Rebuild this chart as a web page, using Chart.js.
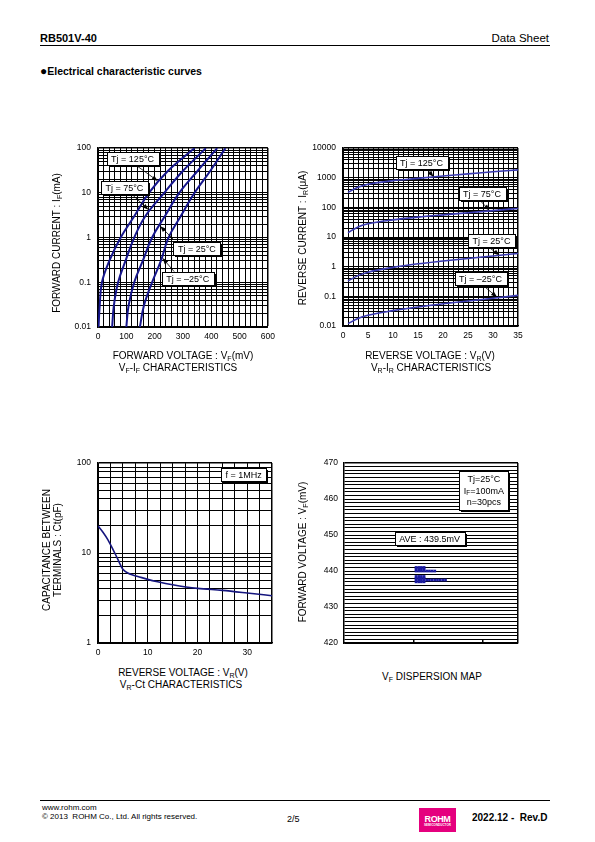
<!DOCTYPE html>
<html lang="en">
<head>
<meta charset="utf-8">
<title>RB501V-40 Electrical characteristic curves</title>
<script src="https://cdn.jsdelivr.net/npm/chart.js@4.4.1/dist/chart.umd.min.js"></script>
<style>
  html, body { margin: 0; padding: 0; background: #fff; }
  body { position: relative; width: 595px; height: 842px; overflow: hidden;
         font-family: "Liberation Sans", Arial, sans-serif; color: #000; }
  .t { position: absolute; white-space: pre; line-height: 1; }
  .c { transform: translate(-50%, -50%); }
  .v { transform: translate(-50%, -50%) rotate(-90deg); text-align: center; }
  .ax { font-size: 10px; }
  sub { font-size: 7px; vertical-align: -1.5px; line-height: 0; }
  .rule { position: absolute; left: 40px; width: 510px; height: 1px; background: #000; }
  canvas { position: absolute; }
</style>
</head>
<body>
<div class="t" style="left:40px;top:33px;font-size:11px;font-weight:bold">RB501V-40</div>
<div class="t" style="right:46px;top:33px;font-size:11.5px">Data Sheet</div>
<div class="rule" style="top:45px"></div>
<div class="t" style="left:40px;top:65px;font-size:10.5px;font-weight:bold"><span style="font-size:12px">●</span>Electrical characteristic curves</div>

<canvas id="vfif" width="240" height="215" style="left:40px;top:136px"></canvas>
<canvas id="vrir" width="240" height="215" style="left:290px;top:136px"></canvas>
<canvas id="vrct" width="240" height="215" style="left:40px;top:451px"></canvas>
<canvas id="vfmap" width="240" height="215" style="left:290px;top:452px"></canvas>

<!-- axis titles -->
<div class="t ax v" style="left:57px;top:243px">FORWARD CURRENT : I<sub>F</sub>(mA)</div>
<div class="t ax c" style="left:183px;top:356px">FORWARD VOLTAGE : V<sub>F</sub>(mV)</div>
<div class="t ax c" style="left:178px;top:368px">V<sub>F</sub>-I<sub>F</sub> CHARACTERISTICS</div>

<div class="t ax v" style="left:303px;top:238px">REVERSE CURRENT : I<sub>R</sub>(μA)</div>
<div class="t ax c" style="left:430px;top:356px">REVERSE VOLTAGE : V<sub>R</sub>(V)</div>
<div class="t ax c" style="left:431px;top:368px">V<sub>R</sub>-I<sub>R</sub> CHARACTERISTICS</div>

<div class="t ax v" style="left:52px;top:550px;line-height:10.5px">CAPACITANCE BETWEEN
TERMINALS : Ct(pF)</div>
<div class="t ax c" style="left:183px;top:673px">REVERSE VOLTAGE : V<sub>R</sub>(V)</div>
<div class="t ax c" style="left:181px;top:685px">V<sub>R</sub>-Ct CHARACTERISTICS</div>

<div class="t ax v" style="left:303px;top:552px">FORWARD VOLTAGE : V<sub>F</sub>(mV)</div>
<div class="t ax c" style="left:432px;top:677px">V<sub>F</sub> DISPERSION MAP</div>

<!-- footer -->
<div class="rule" style="top:800px"></div>
<div class="t" style="left:42px;top:804px;font-size:8px">www.rohm.com</div>
<div class="t" style="left:42px;top:813px;font-size:8px">© 2013  ROHM Co., Ltd. All rights reserved.</div>
<div class="t" style="left:287px;top:815px;font-size:9px">2/5</div>
<div style="position:absolute;left:419px;top:808px;width:37px;height:24px;background:#e5007e;color:#fff;text-align:center;font-weight:bold;line-height:1">
  <div style="margin-top:7px;font-size:9px;letter-spacing:-0.4px">ROHM</div>
  <div style="font-size:3px">SEMICONDUCTOR</div>
</div>
<div class="t" style="left:472px;top:813px;font-size:10px;font-weight:bold">2022.12 -  Rev.D</div>

<script>
// ---- VF-IF characteristics (forward current, mA, against VF in mV)
const ifLevels = [0.01, 0.03, 0.1, 0.3, 1, 3, 10, 30, 100];
const vf125 = [2, 6, 14, 40, 80, 128, 180, 245, 341];
const vf75 = [50, 56, 71, 97, 128, 167, 234, 298, 381];
const vf25 = [100, 108, 128, 158, 191, 236, 287, 350, 421];
const vfm25 = [148, 162, 191, 222, 249, 292, 341, 395, 450];

// ---- VR-IR characteristics (reverse current, uA)
const vrSteps = [1, 3, 5, 10, 15, 20, 25, 30, 35];
const ir125 = [320, 480, 600, 800, 950, 1150, 1350, 1600, 1850];
const ir75 = [14, 22, 28, 38, 47, 56, 66, 78, 92];
const ir25 = [0.33, 0.5, 0.65, 0.95, 1.25, 1.55, 1.9, 2.3, 2.8];
const irm25 = [0.012, 0.018, 0.023, 0.033, 0.044, 0.056, 0.07, 0.086, 0.108];

// ---- VR-Ct characteristics (pF)
const ctVr = [0, 1, 2, 3, 4, 5, 6, 7, 8, 10, 12, 15, 20, 25, 30, 35];
const ctPf = [20, 17, 14, 11, 8.5, 6.6, 6.0, 5.7, 5.5, 5.1, 4.8, 4.45, 4.05, 3.85, 3.6, 3.35];

// ---- VF dispersion map (mV rows, number of pcs on each row)
const vfRows = [441, 440.5, 440, 438.5, 438, 437.5, 437];
const vfCounts = [4, 4, 8, 4, 4, 12, 4];

const FONT = '"Liberation Sans", Arial, sans-serif';
Chart.defaults.font.family = FONT;
Chart.defaults.color = '#000';

const pairs = (xs, ys) => xs.map((x, i) => ({ x, y: ys[i] }));
const isDecade = v => { const l = Math.log10(v); return Math.abs(l - Math.round(l)) < 1e-9; };
const wholeMantissa = v => {
  const m = v / Math.pow(10, Math.floor(Math.log10(v) + 1e-9));
  return Math.abs(m - Math.round(m)) < 1e-6;
};
// the frame edge (max tick) a little heavier than the grid
const edgeWidth = max => c => (c.tick && Math.abs(c.tick.value - max) < 1e-9 ? 1.5 : 1);

// text with {sub} parts, drawn on canvas
function richWidth(ctx, text, size) {
  let w = 0;
  text.split(/(\{[^}]*\})/).filter(Boolean).forEach(p => {
    const sub = p[0] === '{';
    ctx.font = (sub ? size * 0.7 : size) + 'px ' + FONT;
    w += ctx.measureText(sub ? p.slice(1, -1) : p).width;
  });
  return w;
}
function drawRich(ctx, text, x, y, size) {
  text.split(/(\{[^}]*\})/).filter(Boolean).forEach(p => {
    const sub = p[0] === '{';
    const s = sub ? p.slice(1, -1) : p;
    ctx.font = (sub ? size * 0.7 : size) + 'px ' + FONT;
    ctx.fillText(s, x, sub ? y + size * 0.25 : y);
    x += ctx.measureText(s).width;
  });
}

// label boxes and arrows, placed in data units
const notes = {
  id: 'notes',
  afterDatasetsDraw(chart, args, opts) {
    const { ctx } = chart;
    const xs = chart.scales.x, ys = chart.scales.y;
    const size = 9, lh = 11.5;
    const items = opts.items || [];
    ctx.save();
    items.forEach(n => {
      if (!n.to) return;
      const x1 = xs.getPixelForValue(n.from[0]), y1 = ys.getPixelForValue(n.from[1]);
      const x2 = xs.getPixelForValue(n.to[0]), y2 = ys.getPixelForValue(n.to[1]);
      const a = Math.atan2(y2 - y1, x2 - x1);
      ctx.strokeStyle = '#000';
      ctx.fillStyle = '#000';
      ctx.lineWidth = 0.8;
      ctx.beginPath();
      ctx.moveTo(x1, y1);
      ctx.lineTo(x2 - 4 * Math.cos(a), y2 - 4 * Math.sin(a));
      ctx.stroke();
      ctx.beginPath();
      ctx.moveTo(x2, y2);
      ctx.lineTo(x2 - 6 * Math.cos(a) + 2.3 * Math.sin(a), y2 - 6 * Math.sin(a) - 2.3 * Math.cos(a));
      ctx.lineTo(x2 - 6 * Math.cos(a) - 2.3 * Math.sin(a), y2 - 6 * Math.sin(a) + 2.3 * Math.cos(a));
      ctx.closePath();
      ctx.fill();
    });
    items.forEach(n => {
      const cx = xs.getPixelForValue(n.at[0]), cy = ys.getPixelForValue(n.at[1]);
      const w = Math.round(Math.max(...n.lines.map(t => richWidth(ctx, t, size))) + 9);
      const h = Math.round(n.lines.length * lh + (n.lines.length > 1 ? 4 : 1));
      const bx = Math.round(cx - w / 2) + 0.5, by = Math.round(cy - h / 2) + 0.5;
      ctx.fillStyle = '#000';
      ctx.fillRect(bx + 1.5, by + 1.5, w, h);
      ctx.fillStyle = '#fff';
      ctx.fillRect(bx, by, w, h);
      ctx.strokeStyle = '#000';
      ctx.lineWidth = 1;
      ctx.strokeRect(bx, by, w, h);
      ctx.fillStyle = '#000';
      ctx.textBaseline = 'middle';
      ctx.textAlign = 'left';
      n.lines.forEach((t, i) => {
        const tw = richWidth(ctx, t, size);
        drawRich(ctx, t, cx - tw / 2, by + h / 2 + (i - (n.lines.length - 1) / 2) * lh + 0.5, size);
      });
    });
    ctx.restore();
  }
};

function logAxis(min, max, width) {
  return {
    type: 'logarithmic', min, max,
    afterFit: s => { s.width = width; },
    afterBuildTicks: s => { s.ticks = s.ticks.filter(t => wholeMantissa(t.value)); },
    grid: { color: '#000', lineWidth: edgeWidth(max), drawTicks: false },
    border: { color: '#000', width: 1.5 },
    ticks: { autoSkip: false, padding: 7, font: { size: 8.5 },
      callback: v => isDecade(v) ? String(v) : '' }
  };
}

function linAxis(min, max, step, every, height) {
  return {
    type: 'linear', min, max,
    afterFit: s => { s.height = height; },
    grid: { color: '#000', lineWidth: edgeWidth(max), drawTicks: false },
    border: { color: '#000', width: 1.5 },
    ticks: { stepSize: step, autoSkip: false, padding: 5, maxRotation: 0, font: { size: 8.5 },
      callback: v => (Math.abs(v / every - Math.round(v / every)) < 1e-9 ? String(v) : '') }
  };
}

function curve(data, color, width, smooth) {
  const ds = { data, borderColor: color, borderWidth: width, pointRadius: 0,
               showLine: true, fill: false };
  if (smooth === 'monotone') ds.cubicInterpolationMode = 'monotone';
  else ds.tension = 0.4;
  return ds;
}

const base = (padRight, items) => ({
  responsive: false,
  animation: false,
  events: [],
  layout: { padding: { top: 10, right: padRight, left: 0, bottom: 0 } },
  plugins: { legend: { display: false }, tooltip: { enabled: false }, notes: { items } }
});

// VF-IF
new Chart(document.getElementById('vfif'), {
  type: 'scatter',
  data: { datasets: [
    curve(pairs(vf125, ifLevels), '#16168c', 2),
    curve(pairs(vf75, ifLevels), '#16168c', 2),
    curve(pairs(vf25, ifLevels), '#16168c', 2),
    curve(pairs(vfm25, ifLevels), '#16168c', 2)
  ] },
  options: Object.assign(base(8, [
    { lines: ['Tj = 125°C'], at: [122, 60], from: [133, 42], to: [211, 18.4] },
    { lines: ['Tj = 75°C'], at: [93, 13.4], from: [122, 9.0], to: [178, 4.2] },
    { lines: ['Tj = 25°C'], at: [349, 0.57], from: [266, 0.91], to: [220, 1.8] },
    { lines: ['Tj = –25°C'], at: [317, 0.124], from: [269, 0.173], to: [228, 0.347] }
  ]), { scales: { x: linAxis(0, 600, 20, 100, 24), y: logAxis(0.01, 100, 58) } }),
  plugins: [notes]
});

// VR-IR
new Chart(document.getElementById('vrir'), {
  type: 'scatter',
  data: { datasets: [
    curve(pairs(vrSteps, ir125), '#3b3bb2', 1.6, 'monotone'),
    curve(pairs(vrSteps, ir75), '#3b3bb2', 1.6, 'monotone'),
    curve(pairs(vrSteps, ir25), '#3b3bb2', 1.6, 'monotone'),
    curve(pairs(vrSteps, irm25), '#3b3bb2', 1.6, 'monotone')
  ] },
  options: Object.assign(base(12, [
    { lines: ['Tj = 125°C'], at: [15.7, 3285], from: [16.7, 2040], to: [18.1, 1080] },
    { lines: ['Tj = 75°C'], at: [27.8, 293], from: [27.1, 195], to: [29.3, 79] },
    { lines: ['Tj = 25°C'], at: [29.7, 7.5], from: [29.1, 4.6], to: [31.3, 2.45] },
    { lines: ['Tj = –25°C'], at: [27.5, 0.39], from: [27.8, 0.25], to: [30.8, 0.095] }
  ]), { scales: { x: linAxis(0, 35, 1, 5, 25), y: logAxis(0.01, 10000, 53) } }),
  plugins: [notes]
});

// VR-Ct
new Chart(document.getElementById('vrct'), {
  type: 'scatter',
  data: { datasets: [curve(pairs(ctVr, ctPf), '#15157e', 1.6, 'monotone')] },
  options: Object.assign(base(8, [
    { lines: ['f = 1MHz'], at: [29.3, 74] }
  ]), { scales: { x: linAxis(0, 35, 2.5, 10, 23), y: logAxis(1, 100, 58) } }),
  plugins: [notes]
});

// VF dispersion map
const mapPoints = [];
vfRows.forEach((vf, r) => {
  for (let k = 0; k < vfCounts[r]; k++) mapPoints.push({ x: 2.07 + k * 0.077, y: vf });
});

const mapY = linAxis(420, 470, 1, 10, 0);
mapY.afterFit = s => { s.width = 54; };
mapY.ticks.padding = 6;

new Chart(document.getElementById('vfmap'), {
  type: 'scatter',
  data: { datasets: [{ data: mapPoints, pointStyle: 'rect', pointRadius: 1.9,
    backgroundColor: '#1a1aa0', borderWidth: 0 }] },
  options: Object.assign(base(12, [
    { lines: ['Tj=25°C', 'I{F}=100mA', 'n=30pcs'], at: [4.02, 462.3] },
    { lines: ['AVE : 439.5mV'], at: [2.46, 449.1] }
  ]), { scales: {
    x: { type: 'linear', min: 0, max: 5,
      afterFit: s => { s.height = 24; },
      grid: { color: c => (c.tick && c.tick.value === 5 ? '#000' : 'rgba(0,0,0,0)'),
              tickColor: c => (c.tick && (c.tick.value === 2 || c.tick.value === 4) ? '#000' : 'rgba(0,0,0,0)'),
              drawTicks: true, tickLength: -4, lineWidth: 1.5 },
      border: { color: '#000', width: 1.5 },
      ticks: { stepSize: 1, autoSkip: false, callback: () => '' } },
    y: mapY
  } }),
  plugins: [notes]
});
</script>
</body>
</html>
